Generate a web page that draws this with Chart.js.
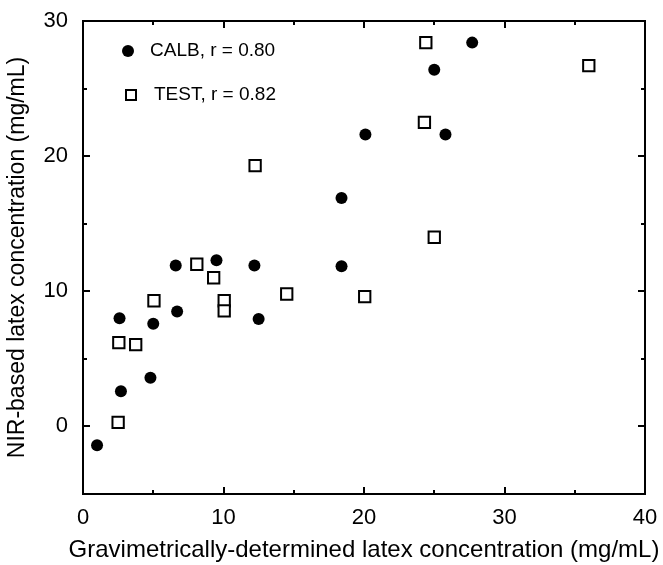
<!DOCTYPE html>
<html>
<head>
<meta charset="utf-8">
<script src="https://cdn.jsdelivr.net/npm/chart.js@4/dist/chart.umd.min.js"></script>
<style>
  html, body { margin: 0; padding: 0; background: #fff; }
  #wrap { width: 663px; height: 565px; }
</style>
</head>
<body>
<div id="wrap"><canvas id="c" width="663" height="565"></canvas></div>
<script>
// ---- data ----
const calbX = [1.0, 2.7, 2.6, 4.8, 5.0, 6.6, 6.7, 9.5, 12.2, 12.5, 18.4, 18.4, 20.1, 25.0, 25.8, 27.7];
const calbY = [-1.4, 2.6, 8.0, 3.6, 7.6, 11.9, 8.5, 12.3, 11.9, 7.95, 16.9, 11.85, 21.6, 26.4, 21.6, 28.4];
const testX = [2.5, 2.55, 3.75, 5.05, 8.1, 9.3, 10.05, 10.05, 12.25, 14.5, 20.05, 24.3, 24.4, 25.0, 36.0];
const testY = [0.3, 6.2, 6.05, 9.3, 12.0, 11.0, 9.3, 8.55, 19.3, 9.8, 9.6, 22.5, 28.4, 14.0, 26.7];
const calbLabel = 'CALB, r = 0.80';
const testLabel = 'TEST, r = 0.82';
const xTickLabels = [0, 10, 20, 30, 40];
const yTickLabels = [0, 10, 20, 30];
const xMinorTicks = [5, 15, 25, 35];
const yMinorTicks = [5, 15, 25];
const xTitle = 'Gravimetrically-determined latex concentration (mg/mL)';
const yTitle = 'NIR-based latex concentration (mg/mL)';

const FONT = "'Liberation Sans', Arial, Helvetica, sans-serif";

const toPts = (xs, ys) => xs.map((x, i) => ({ x: x, y: ys[i] }));

const frameTicks = {
  id: 'frameTicks',
  afterDraw(chart) {
    const { ctx, chartArea: a, scales: { x, y } } = chart;
    ctx.save();
    ctx.strokeStyle = '#000';
    ctx.lineWidth = 2;
    ctx.strokeRect(a.left, a.top, a.right - a.left, a.bottom - a.top);
    const major = 7, minor = 4;
    ctx.beginPath();
    const xt = (v, len) => {
      const px = Math.round(x.getPixelForValue(v));
      ctx.moveTo(px, a.bottom); ctx.lineTo(px, a.bottom - len);
      ctx.moveTo(px, a.top); ctx.lineTo(px, a.top + len);
    };
    const yt = (v, len) => {
      const py = Math.round(y.getPixelForValue(v));
      ctx.moveTo(a.left, py); ctx.lineTo(a.left + len, py);
      ctx.moveTo(a.right, py); ctx.lineTo(a.right - len, py);
    };
    xTickLabels.forEach(v => { if (v > x.min && v < x.max) xt(v, major); });
    xMinorTicks.forEach(v => xt(v, minor));
    yTickLabels.forEach(v => { if (v > y.min && v < y.max) yt(v, major); });
    yMinorTicks.forEach(v => yt(v, minor));
    ctx.lineWidth = 2;
    ctx.stroke();

    // x-axis title (wider than the plot area, so drawn without width clamp)
    ctx.fillStyle = '#000';
    ctx.font = '24px ' + FONT;
    ctx.textAlign = 'center';
    ctx.textBaseline = 'middle';
    ctx.fillText(xTitle, (a.left + a.right) / 2, a.bottom + 56);

    // legend inside plot area
    const ds = chart.data.datasets;
    ctx.font = '19px ' + FONT;
    ctx.textAlign = 'left';
    const c0x = a.left + 45, c0y = a.top + 30;
    ctx.beginPath();
    ctx.arc(c0x, c0y, 6, 0, Math.PI * 2);
    ctx.fill();
    ctx.fillText(ds[0].label, a.left + 67, c0y);
    const s0x = a.left + 48, s0y = a.top + 74;
    ctx.lineWidth = 2;
    ctx.strokeRect(s0x - 5, s0y - 5, 10, 10);
    ctx.fillText(ds[1].label, a.left + 71, s0y);
    ctx.restore();
  }
};

const hiddenGrid = (len) => ({
  display: true, drawOnChartArea: false, drawTicks: true,
  tickLength: len, color: 'rgba(0,0,0,0)', tickColor: 'rgba(0,0,0,0)'
});

new Chart(document.getElementById('c'), {
  type: 'scatter',
  data: {
    datasets: [
      {
        label: calbLabel,
        data: toPts(calbX, calbY),
        pointStyle: 'circle',
        pointRadius: 6,
        pointHoverRadius: 6,
        backgroundColor: '#000',
        borderColor: '#000',
        borderWidth: 0
      },
      {
        label: testLabel,
        data: toPts(testX, testY),
        pointStyle: 'rect',
        pointRadius: 8,
        pointHoverRadius: 8,
        backgroundColor: '#fff',
        borderColor: '#000',
        borderWidth: 2
      }
    ]
  },
  options: {
    responsive: false,
    animation: false,
    events: [],
    layout: { autoPadding: false, padding: { top: 21, right: 18, left: 0, bottom: 0 } },
    plugins: { legend: { display: false }, tooltip: { enabled: false } },
    scales: {
      x: {
        type: 'linear',
        min: 0, max: 40,
        afterBuildTicks: s => { s.ticks = xTickLabels.map(v => ({ value: v })); },
        afterFit: s => { s.height = 71; },
        grid: hiddenGrid(11),
        border: { display: false },
        ticks: { color: '#000', font: { family: FONT, size: 22 }, padding: 0, maxRotation: 0 },
        title: { display: false }
      },
      y: {
        type: 'linear',
        min: -5, max: 30,
        afterBuildTicks: s => { s.ticks = yTickLabels.map(v => ({ value: v })); },
        afterFit: s => { s.width = 83; },
        grid: hiddenGrid(15),
        border: { display: false },
        ticks: { color: '#000', font: { family: FONT, size: 22 }, padding: 0 },
        title: { display: true, text: yTitle, color: '#000', font: { family: FONT, size: 23 }, padding: { top: 4, bottom: 0 } }
      }
    }
  },
  plugins: [frameTicks]
});
</script>
</body>
</html>
